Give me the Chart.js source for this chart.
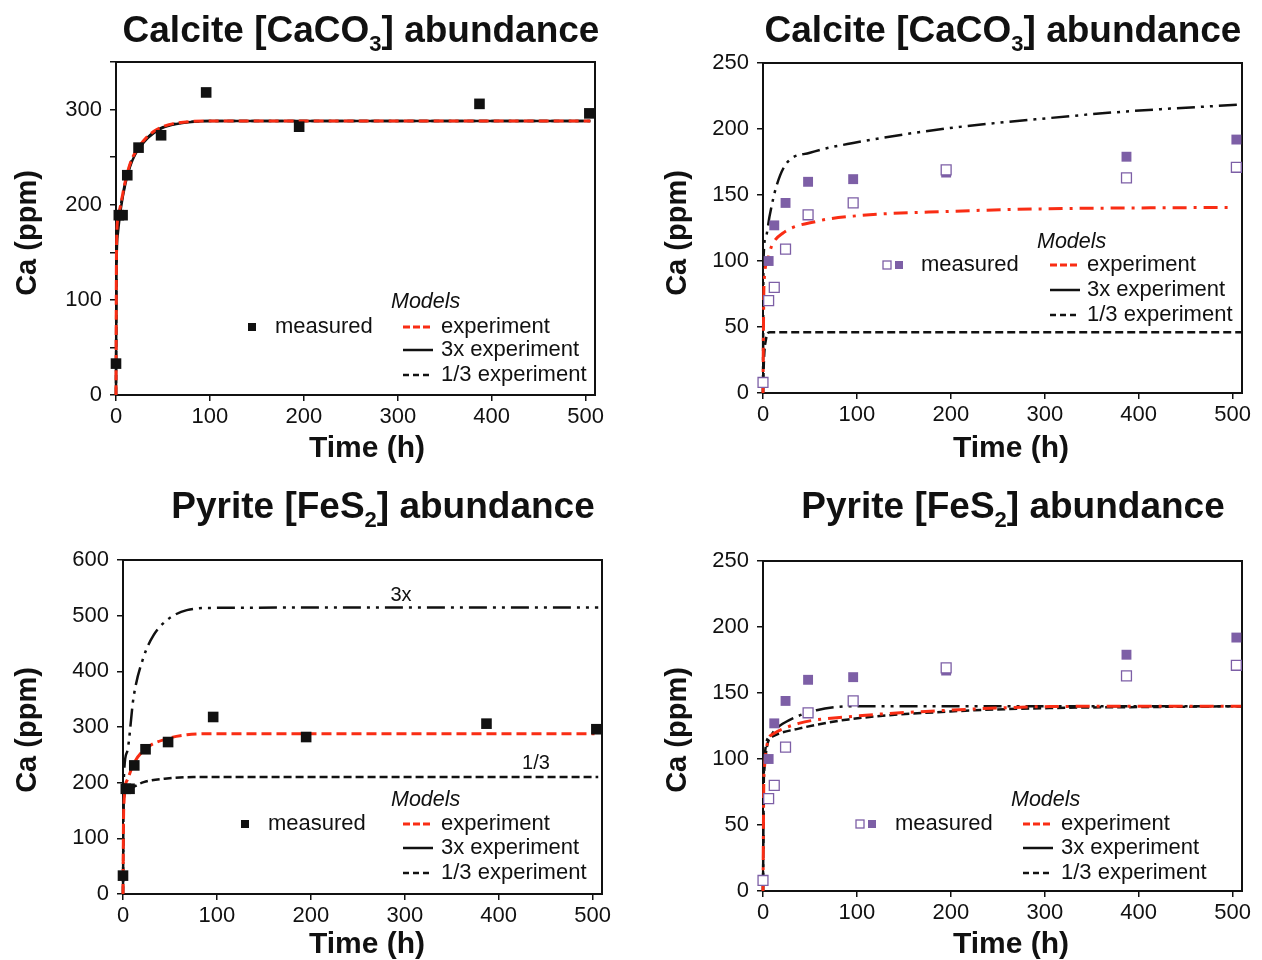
<!DOCTYPE html>
<html>
<head>
<meta charset="utf-8">
<script src="https://cdn.jsdelivr.net/npm/chart.js@4.4.0/dist/chart.umd.min.js"></script>
<style>
html,body{margin:0;padding:0;background:#fff;width:1262px;height:960px;overflow:hidden;}
canvas{position:absolute;}
</style>
</head>
<body>
<canvas id="c1" width="631" height="480" style="left:0;top:0"></canvas>
<canvas id="c2" width="631" height="480" style="left:631px;top:0"></canvas>
<canvas id="c3" width="631" height="480" style="left:0;top:480px"></canvas>
<canvas id="c4" width="631" height="480" style="left:631px;top:480px"></canvas>
<script>
// ---------- data ----------
const xTicks = [0, 100, 200, 300, 400, 500];
const yTicksCalc1 = [0, 50, 100, 150, 200, 250, 300, 350];
const yTicks250 = [0, 50, 100, 150, 200, 250];
const yTicks600 = [0, 100, 200, 300, 400, 500, 600];

// measured (black squares, charts 1 & 3)
const measTime = [0, 3, 7, 12, 24, 48, 96, 195, 387, 504];
const measCa = [33, 189, 189, 231, 260, 273, 318, 282, 306, 296];

// measured (purple, charts 2 & 4)
const filledTime = [6, 12, 24, 48, 96, 195, 387, 504];
const filledCa = [100, 127, 144, 160, 162, 167, 179, 192];
const openTime = [0, 6, 12, 24, 48, 96, 195, 387, 504];
const openCa = [8, 70, 80, 109, 135, 144, 169, 163, 171];

// chart 1 models
const c1Time = [0, 0.5, 2, 5, 10, 15, 20, 30, 40, 50, 60, 80, 100, 200, 300, 400, 505];
const c1Exp = [0, 150, 185, 200, 225, 243, 254, 268, 277, 282, 285, 287.5, 288, 288, 288, 288, 288];
const c1Three = [0, 130, 170, 195, 222, 240, 252, 266, 275, 281, 284, 287, 288, 288, 288, 288, 288];
const c1Third = [0, 145, 182, 199, 224, 242, 253, 267, 276, 281.5, 284.5, 287.3, 288, 288, 288, 288, 288];

// chart 2 models
const c2ExpTime = [0, 0.5, 1, 4.6, 9, 21, 57, 96, 199, 305, 400, 500];
const c2Exp = [0, 50, 81, 100, 111, 121, 130, 134, 137.6, 139.6, 140.2, 140.6];
const c2ThreeTime = [0, 0.5, 3, 7, 14, 25, 50, 96, 199, 305, 387, 506];
const c2Three = [0, 100, 118, 134, 156, 174, 182, 189.4, 200.7, 208.3, 213.3, 218.4];
const c2ThirdTime = [0, 1, 3, 7, 15, 100, 300, 510];
const c2Third = [0, 25, 40, 46, 46, 46, 46, 46];

// chart 3 models
const c3ExpTime = [0, 0.7, 4.3, 11.3, 24, 47, 68, 96, 200, 300, 400, 502];
const c3Exp = [0, 150, 204, 234, 261, 279, 286, 288, 288, 288, 288, 288];
const c3ThreeTime = [0, 0.7, 4.3, 11.3, 22, 32.6, 46.8, 68, 96, 200, 300, 400, 506];
const c3Three = [0, 198, 255, 354, 426, 465, 492, 510, 514, 514.5, 514.5, 514.5, 514.5];
const c3ThirdTime = [0, 0.7, 7.8, 22, 46.8, 75, 200, 300, 400, 506];
const c3Third = [0, 171, 191, 201, 207.6, 210, 210, 210, 210, 210];

// chart 4 models
const c4ThreeTime = [0, 1, 7, 14, 28, 57, 96, 200, 300, 400, 509];
const c4Three = [0, 94, 117, 123, 129.5, 137, 140, 140, 140, 140, 140];
const c4ExpTime = [0, 1, 9.7, 38, 91, 199, 305, 400, 509];
const c4Exp = [0, 88, 118.5, 127, 132, 137, 139.7, 140, 140];
const c4ThirdTime = [0, 1, 9.7, 38, 91, 199, 305, 412, 509];
const c4Third = [0, 88, 117, 123, 130, 136, 138.6, 139.4, 140];

// ---------- styles ----------
const FONT = '"Liberation Sans", Arial, Helvetica, sans-serif';
const RED = '#f92d14';
const PURPLE = '#7d5fa6';
const BLACK = '#111';
const DASH_RED = [10, 5];
const DASH_DOT_RED = [14, 7, 3, 7];
const DASH_DOT_DOT = [18, 6, 3, 6, 3, 6];
const DASH_BLACK = [8, 4];

function pts(xs, ys) { return xs.map((x, i) => ({ x: x, y: ys[i] })); }

function lineDs(label, xs, ys, color, dash, width) {
  return {
    type: 'line', label: label, data: pts(xs, ys),
    borderColor: color, borderWidth: width, borderDash: dash,
    pointRadius: 0, fill: false, cubicInterpolationMode: 'monotone',
    clip: 4
  };
}
function markDs(label, xs, ys, fillColor, edgeColor, r, bw) {
  return {
    type: 'scatter', label: label, data: pts(xs, ys),
    pointStyle: 'rect', pointRadius: r, pointHoverRadius: r,
    backgroundColor: fillColor, borderColor: edgeColor, borderWidth: bw,
    showLine: false, clip: false
  };
}

// ---------- decoration plugin ----------
const decoPlugin = {
  id: 'deco',
  beforeDatasetsDraw(chart) {
    const ctx = chart.ctx, a = chart.chartArea;
    ctx.save();
    ctx.strokeStyle = BLACK; ctx.lineWidth = 2; ctx.setLineDash([]);
    ctx.strokeRect(a.left, a.top, a.right - a.left, a.bottom - a.top);
    ctx.restore();
  },
  afterDraw(chart, args, o) {
    const ctx = chart.ctx;
    ctx.save();
    ctx.fillStyle = BLACK;
    // title with subscript
    ctx.textBaseline = 'alphabetic';
    ctx.textAlign = 'left';
    const big = 'bold 37px ' + FONT, small = 'bold 22px ' + FONT;
    let w = 0;
    o.title.forEach(p => { ctx.font = p.sub ? small : big; w += ctx.measureText(p.t).width; });
    let x = o.titleX - w / 2;
    o.title.forEach(p => {
      ctx.font = p.sub ? small : big;
      ctx.fillText(p.t, x, p.sub ? o.titleY + 9 : o.titleY);
      x += ctx.measureText(p.t).width;
    });
    // axis titles
    ctx.font = 'bold 30px ' + FONT;
    ctx.textAlign = 'center'; ctx.textBaseline = 'middle';
    ctx.fillText('Time (h)', o.xTitle[0], o.xTitle[1]);
    ctx.font = 'bold 29px ' + FONT;
    ctx.save();
    ctx.translate(o.yTitle[0], o.yTitle[1]);
    ctx.rotate(-Math.PI / 2);
    ctx.fillText('Ca (ppm)', 0, 0);
    ctx.restore();
    // legend
    const L = o.legend;
    ctx.textAlign = 'left'; ctx.textBaseline = 'middle';
    ctx.font = 'italic 21.5px ' + FONT;
    ctx.fillText('Models', L.modelsX, L.modelsY);
    ctx.font = '22px ' + FONT;
    L.markers.forEach(m => {
      ctx.setLineDash([]);
      if (m.open) {
        ctx.fillStyle = '#fff'; ctx.strokeStyle = m.color; ctx.lineWidth = 1.3;
        ctx.fillRect(m.x - 4, L.rows[0] - 4, 8, 8);
        ctx.strokeRect(m.x - 4, L.rows[0] - 4, 8, 8);
      } else {
        ctx.fillStyle = m.color;
        ctx.fillRect(m.x - 4, L.rows[0] - 4, 8, 8);
      }
    });
    ctx.fillStyle = BLACK;
    ctx.fillText('measured', L.measX, L.rows[0]);
    const items = [
      { t: 'experiment', c: RED, d: [7, 3], w: 3 },
      { t: '3x experiment', c: BLACK, d: [], w: 2.5 },
      { t: '1/3 experiment', c: BLACK, d: [6, 4], w: 2.5 }
    ];
    items.forEach((it, i) => {
      const y = L.rows[i];
      ctx.strokeStyle = it.c; ctx.lineWidth = it.w; ctx.setLineDash(it.d);
      ctx.beginPath(); ctx.moveTo(L.lineX0, y); ctx.lineTo(L.lineX1, y); ctx.stroke();
      ctx.setLineDash([]);
      ctx.fillStyle = BLACK;
      ctx.fillText(it.t, L.textX, y);
    });
    // annotations
    (o.notes || []).forEach(n => {
      ctx.font = '20px ' + FONT; ctx.textAlign = 'center'; ctx.fillStyle = BLACK;
      ctx.fillText(n.t, n.x, n.y);
    });
    ctx.restore();
  }
};

function makeChart(id, datasets, layout, yMax, yTicks, yLabelStep, dec) {
  const [left, top, right, bottom] = layout;
  return new Chart(document.getElementById(id), {
    data: { datasets: datasets },
    options: {
      responsive: false, animation: false, devicePixelRatio: 1,
      layout: { padding: { left: 0, top: top, right: 631 - right, bottom: 0 } },
      plugins: { legend: { display: false }, tooltip: { enabled: false }, title: { display: false }, deco: dec },
      scales: {
        x: {
          type: 'linear', min: 0, max: 510,
          afterBuildTicks: s => { s.ticks = xTicks.map(v => ({ value: v })); },
          afterFit: s => { s.height = 480 - bottom; },
          grid: { display: true, drawOnChartArea: false, drawTicks: true, tickLength: 6, color: BLACK, lineWidth: 1.5 },
          border: { display: true, color: BLACK, width: 2 },
          ticks: { font: { family: FONT, size: 22 }, color: BLACK, padding: 3, maxRotation: 0 }
        },
        y: {
          type: 'linear', min: 0, max: yMax,
          afterBuildTicks: s => { s.ticks = yTicks.map(v => ({ value: v })); },
          afterFit: s => { s.width = left; },
          grid: { display: true, drawOnChartArea: false, drawTicks: true, tickLength: 6, color: BLACK, lineWidth: 1.5 },
          border: { display: true, color: BLACK, width: 2 },
          ticks: {
            font: { family: FONT, size: 22 }, color: BLACK, padding: 8,
            callback: v => (v % yLabelStep === 0 && !(yLabelStep === 100 && v === 350)) ? String(v) : ''
          }
        }
      }
    },
    plugins: [decoPlugin]
  });
}

const calcTitle = [{ t: 'Calcite [CaCO' }, { t: '3', sub: true }, { t: '] abundance' }];
const pyrTitle = [{ t: 'Pyrite [FeS' }, { t: '2', sub: true }, { t: '] abundance' }];

// Chart 1
makeChart('c1', [
  markDs('measured', measTime, measCa, BLACK, BLACK, 7.5, 0),
  lineDs('experiment', c1Time, c1Exp, RED, DASH_RED, 3),
  lineDs('3x experiment', c1Time, c1Three, BLACK, [], 2.5),
  lineDs('1/3 experiment', c1Time, c1Third, BLACK, DASH_BLACK, 2.5)
], [116, 62, 595, 395], 350, yTicksCalc1, 100, {
  title: calcTitle, titleX: 361, titleY: 42,
  xTitle: [367, 449], yTitle: [28, 233],
  legend: { modelsX: 391, modelsY: 302, rows: [327, 350, 375], markers: [{ x: 252, color: BLACK }],
            measX: 275, lineX0: 403, lineX1: 433, textX: 441 }
});

// Chart 2
makeChart('c2', [
  markDs('measured open', openTime, openCa, '#fff', PURPLE, 7, 1.3),
  markDs('measured filled', filledTime, filledCa, PURPLE, PURPLE, 7, 0),
  lineDs('experiment', c2ExpTime, c2Exp, RED, DASH_DOT_RED, 3),
  lineDs('3x experiment', c2ThreeTime, c2Three, BLACK, DASH_DOT_DOT, 2.5),
  lineDs('1/3 experiment', c2ThirdTime, c2Third, BLACK, DASH_BLACK, 2.5)
], [132, 63, 611, 393], 250, yTicks250, 50, {
  title: calcTitle, titleX: 372, titleY: 42,
  xTitle: [380, 449], yTitle: [47, 233],
  legend: { modelsX: 406, modelsY: 242, rows: [265, 290, 315],
            markers: [{ x: 256, color: PURPLE, open: true }, { x: 268, color: PURPLE }],
            measX: 290, lineX0: 419, lineX1: 449, textX: 456 }
});

// Chart 3
makeChart('c3', [
  markDs('measured', measTime, measCa, BLACK, BLACK, 7.5, 0),
  lineDs('experiment', c3ExpTime, c3Exp, RED, DASH_RED, 3),
  lineDs('3x experiment', c3ThreeTime, c3Three, BLACK, DASH_DOT_DOT, 2.5),
  lineDs('1/3 experiment', c3ThirdTime, c3Third, BLACK, DASH_BLACK, 2.5)
], [123, 80, 602, 414], 600, yTicks600, 100, {
  title: pyrTitle, titleX: 383, titleY: 38,
  xTitle: [367, 465], yTitle: [28, 250],
  legend: { modelsX: 391, modelsY: 320, rows: [344, 368, 393], markers: [{ x: 245, color: BLACK }],
            measX: 268, lineX0: 403, lineX1: 433, textX: 441 },
  notes: [{ t: '3x', x: 401, y: 115 }, { t: '1/3', x: 536, y: 283 }]
});

// Chart 4
makeChart('c4', [
  markDs('measured open', openTime, openCa, '#fff', PURPLE, 7, 1.3),
  markDs('measured filled', filledTime, filledCa, PURPLE, PURPLE, 7, 0),
  lineDs('experiment', c4ExpTime, c4Exp, RED, DASH_DOT_RED, 3),
  lineDs('3x experiment', c4ThreeTime, c4Three, BLACK, DASH_DOT_DOT, 2.5),
  lineDs('1/3 experiment', c4ThirdTime, c4Third, BLACK, DASH_BLACK, 2.5)
], [132, 81, 611, 411], 250, yTicks250, 50, {
  title: pyrTitle, titleX: 382, titleY: 38,
  xTitle: [380, 465], yTitle: [47, 250],
  legend: { modelsX: 380, modelsY: 320, rows: [344, 368, 393],
            markers: [{ x: 229, color: PURPLE, open: true }, { x: 241, color: PURPLE }],
            measX: 264, lineX0: 392, lineX1: 422, textX: 430 }
});
</script>
</body>
</html>
